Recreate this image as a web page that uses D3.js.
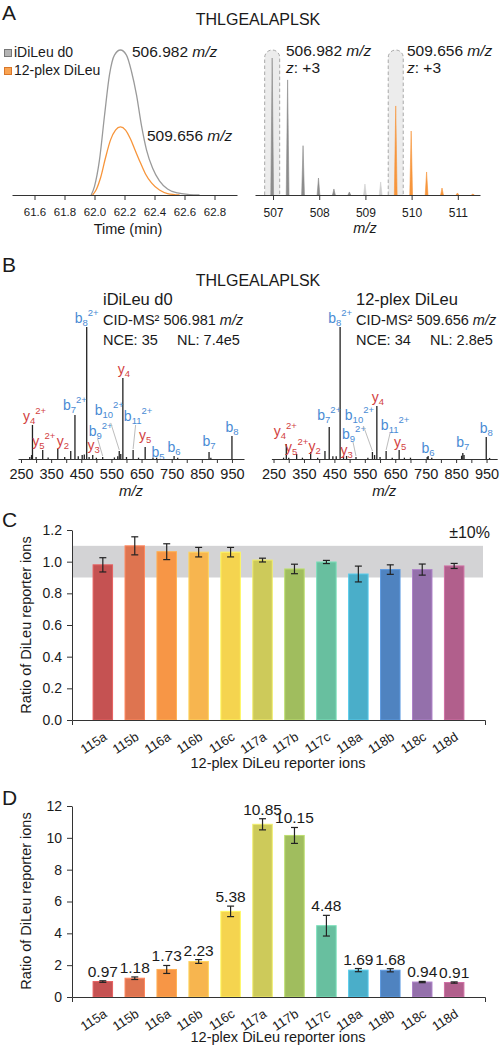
<!DOCTYPE html>
<html><head><meta charset="utf-8">
<script src="https://cdn.jsdelivr.net/npm/d3@7"></script>
<style>
body{margin:0;background:#fff}
svg{display:block}
text{font-family:"Liberation Sans",Arial,Helvetica,sans-serif;fill:#1a1a1a}
</style>
</head><body>
<svg id="c" width="500" height="1049"></svg>
<script>
// ---------------- DATA ----------------
const peptide = "THLGEALAPLSK";

// Panel A left: extracted ion chromatograms (time in min, relative intensity)
const xicTicks = [61.6, 61.8, 62.0, 62.2, 62.4, 62.6, 62.8];
const xicTimeD0 = [61.978, 62.0, 62.033, 62.067, 62.1, 62.133, 62.173, 62.213, 62.247, 62.28, 62.313, 62.347, 62.387, 62.433, 62.487, 62.553, 62.633, 62.7];
const xicIntD0  = [0, 6, 24, 55, 83, 96.5, 100, 96.5, 85, 69, 48, 31, 18.6, 9.7, 4.1, 1.4, 0.3, 0];
const xicTime12 = [61.987, 62.013, 62.04, 62.073, 62.107, 62.14, 62.173, 62.207, 62.24, 62.273, 62.307, 62.34, 62.38, 62.433, 62.487, 62.567];
const xicInt12  = [0, 4, 11.7, 25.5, 38, 44.8, 47, 44.8, 38.6, 30.3, 22, 14.5, 8.3, 3.4, 1, 0];
const legendLabels = ["iDiLeu d0", "12-plex DiLeu"];

// Panel A right: MS1 isotopic envelopes
const ms1Ticks = [507, 508, 509, 510, 511];
const ms1MzD0  = [506.982, 507.316, 507.650, 507.984, 508.318, 508.652];
const ms1IntD0 = [100, 84, 36, 12.4, 4.4, 2.2];
const ms1MzOther  = [508.99, 509.33];
const ms1IntOther = [8, 9.5];
const ms1Mz12  = [509.656, 509.990, 510.324, 510.658, 510.992, 511.326];
const ms1Int12 = [65, 46.7, 16.8, 5.1, 1.5, 0.7];
const precursorMz = [506.982, 509.656];

// Panel B: MS2 spectra
const ms2Ticks = [250, 300, 350, 400, 450, 500, 550, 600, 650, 700, 750, 800, 850, 900, 950];
const ms2MzD0  = [279, 285, 288, 300, 322, 340, 372, 395, 415, 429, 440, 453, 460, 468, 476, 488, 500, 521, 560, 571, 576, 581, 588, 600, 622, 640, 662, 688, 700, 758, 770, 874, 880, 950];
const ms2IntD0 = [1.5, 3, 25.8, 1.5, 6.8, 1.2, 7.6, 1.5, 6.1, 33.3, 2, 3, 3.5, 100, 1.5, 3, 1, 1.5, 1.2, 2, 6.1, 3.8, 61.4, 1.5, 6.8, 1, 9.1, 1.1, 1, 2.3, 1, 5.3, 1, 17.4];
const ms2Mz12  = [283, 292, 300, 326, 345, 372, 395, 419, 433, 445, 456, 468.8, 480, 490, 521, 560, 575, 582, 589.5, 600, 620, 640, 662.8, 680, 700, 755, 758, 770, 868, 872, 876, 949, 960];
const ms2Int12 = [1, 11.4, 1, 3.8, 1, 5.3, 1, 6.1, 24.2, 2, 2, 100, 2, 2.3, 1.5, 1, 5.3, 3, 40.2, 1.5, 6.1, 1, 6.8, 1, 1, 1.5, 2.3, 1, 2.5, 4.5, 3, 16.7, 0.8];
// annotated ions: [type, index, charge, m/z]
const ionsD0 = [["y","4","2+",288],["y","5","2+",322],["y","2","",372],["b","7","2+",429],["b","8","2+",468],["y","3","",488],["b","9","2+",521],["b","10","2+",576],["y","4","",588],["b","11","2+",622],["y","5","",662],["b","5","",688],["b","6","",758],["b","7","",874],["b","8","",950]];
const ions12 = [["y","4","2+",292],["y","5","2+",326],["y","2","",372],["b","7","2+",433],["b","8","2+",468.8],["y","3","",490],["b","9","2+",521],["b","10","2+",575],["y","4","",589.5],["b","11","2+",620],["y","5","",662.8],["b","6","",758],["b","7","",872],["b","8","",949]];
const specInfoD0 = ["iDiLeu d0", "506.981", "NCE: 35", "NL: 7.4e5"];
const specInfo12 = ["12-plex DiLeu", "509.656", "NCE: 34", "NL: 2.8e5"];

// Panels C, D: reporter ion ratios
const reporters = ["115a","115b","116a","116b","116c","117a","117b","117c","118a","118b","118c","118d"];
const colors = ["#c55252","#de7450","#f79646","#f7b54f","#f5d44f","#cdca5a","#a0bd5e","#68bf9f","#4aaec9","#4f83c0","#9470ab","#b15f8c"];
const ratioC = [0.98, 1.10, 1.063, 1.06, 1.06, 1.01, 0.954, 0.998, 0.922, 0.95, 0.95, 0.973];
const errC   = [0.045, 0.057, 0.05, 0.03, 0.03, 0.012, 0.03, 0.01, 0.05, 0.03, 0.035, 0.016];
const ticksC = [0, 0.2, 0.4, 0.6, 0.8, 1.0, 1.2];
const bandC  = [0.9, 1.1];
const ratioD = [0.97, 1.18, 1.73, 2.23, 5.38, 10.85, 10.15, 4.48, 1.69, 1.68, 0.94, 0.91];
const errD   = [0.05, 0.08, 0.25, 0.12, 0.33, 0.35, 0.5, 0.65, 0.1, 0.1, 0.04, 0.04];
const ticksD = [0, 2, 4, 6, 8, 10, 12];

// ---------------- LAYOUT (pixel offsets for annotations) ----------------
// [dx from peak, dy from peak top (baseline), leader start dx, leader start dy]
const labelPosD0 = [[2,-4],[1,-4],[5,-3],[0,-5],[0,-4],[1,-5],[-2,-21,-3,3],[-10,-36,1.5,8],[1,-4],[5,-29,-2.5,4],[0,-7],[5,-1],[0,-4],[0,-6],[0,-4]];
const labelPos12 = [[-1,-8],[0,-2],[4,-1],[0,-7],[0,-4],[0,-1],[-2,-18,-1,3],[-13,-32,4,6],[1,-4],[9,-21,-5,3],[1,-3],[0,-3],[0,-6],[0,-4]];

const svg = d3.select("#c");
const ink = "#222";

function styleAxis(g, fs) {
  g.selectAll("path,line").attr("stroke", "#333").attr("stroke-width", 1);
  g.selectAll("text").attr("font-size", fs).attr("fill", "#1a1a1a")
    .attr("font-family", '"Liberation Sans",Arial,Helvetica,sans-serif');
}

// panel letters and titles
[["A",20],["B",272],["C",527],["D",805]].forEach(([t,y]) =>
  svg.append("text").attr("x", 2).attr("y", y).attr("font-size", 21).text(t));
[25, 286].forEach(y => svg.append("text").attr("x", 258).attr("y", y)
  .attr("text-anchor","middle").attr("font-size", 16).text(peptide));

// ---------------- Panel A left ----------------
{
  const x = d3.scaleLinear().domain([61.45, 62.95]).range([12, 237]);
  const y = d3.scaleLinear().domain([0, 100]).range([195, 50]);
  const line = d3.line().x(d => x(d[0])).y(d => y(d[1])).curve(d3.curveMonotoneX);
  svg.append("path").datum(d3.zip(xicTimeD0, xicIntD0)).attr("d", line)
    .attr("fill","none").attr("stroke","#9a9a9a").attr("stroke-width",1.3);
  svg.append("path").datum(d3.zip(xicTime12, xicInt12)).attr("d", line)
    .attr("fill","none").attr("stroke","#f7953b").attr("stroke-width",1.3);
  const g = svg.append("g").attr("transform","translate(0,195)")
    .call(d3.axisBottom(x).tickValues(xicTicks).tickFormat(d3.format(".1f")).tickSize(5).tickSizeOuter(0).tickPadding(8));
  styleAxis(g, 11.5);
  svg.append("text").attr("x",128).attr("y",234).attr("text-anchor","middle").attr("font-size",14.5).text("Time (min)");
  // legend
  const lf = [["#b4b4b4","#777"],["#f9a352","#d9772a"]];
  legendLabels.forEach((l,i) => {
    svg.append("rect").attr("x",4.5).attr("y",49.5+i*18).attr("width",7).attr("height",7)
      .attr("fill",lf[i][0]).attr("stroke",lf[i][1]).attr("stroke-width",1);
    svg.append("text").attr("x",14).attr("y",57+i*18).attr("font-size",14).text(l);
  });
  const lab = (tx, ty, mz) => {
    const t = svg.append("text").attr("x",tx).attr("y",ty).attr("font-size",15.5);
    t.append("tspan").text(mz + " ");
    t.append("tspan").attr("font-style","italic").text("m/z");
  };
  lab(132, 57, "506.982");
  lab(147, 141, "509.656");
}

// ---------------- Panel A right ----------------
{
  const x = d3.scaleLinear().domain([506.61, 511.48]).range([255, 480]);
  const y = d3.scaleLinear().domain([0, 100]).range([195, 58]);
  precursorMz.forEach(mz => {
    const l = x(mz) - 7.5, r = x(mz) + 7.5, top = 50, b = 195;
    svg.append("path").attr("d", `M${l},${b}V${top+7.5}A7.5,7.5 0 0 1 ${r},${top+7.5}V${b}Z`).attr("fill","#ececec");
    svg.append("path").attr("d", `M${l},${b}V${top+7.5}A7.5,7.5 0 0 1 ${r},${top+7.5}V${b}`)
      .attr("fill","none").attr("stroke","#a8a8a8").attr("stroke-width",1).attr("stroke-dasharray","3.5,2.5");
  });
  const peak = (mzs, ints, col) => mzs.forEach((mz,i) => {
    svg.append("path").attr("d", `M${x(mz-0.03)},195L${x(mz)},${y(ints[i])}L${x(mz+0.03)},195Z`)
      .attr("fill", col).attr("stroke", col).attr("stroke-width", 0.6);
  });
  peak(ms1MzD0, ms1IntD0, "#8c8c8c");
  peak(ms1MzOther, ms1IntOther, "#cfcfcf");
  peak(ms1Mz12, ms1Int12, "#f7953b");
  const g = svg.append("g").attr("transform","translate(0,195)")
    .call(d3.axisBottom(x).tickValues(ms1Ticks).tickFormat(d3.format("d")).tickSize(5).tickSizeOuter(0).tickPadding(8));
  styleAxis(g, 12);
  svg.append("text").attr("x",365).attr("y",233).attr("text-anchor","middle").attr("font-size",14.5)
    .attr("font-style","italic").text("m/z");
  const lab = (tx, mz) => {
    const t = svg.append("text").attr("x",tx).attr("y",56).attr("font-size",15.5);
    t.append("tspan").text(mz + " ");
    t.append("tspan").attr("font-style","italic").text("m/z");
    const t2 = svg.append("text").attr("x",tx).attr("y",73).attr("font-size",15.5);
    t2.append("tspan").attr("font-style","italic").text("z");
    t2.append("tspan").text(": +3");
  };
  lab(286, "506.982");
  lab(407, "509.656");
}

// ---------------- Panel B ----------------
function spectrum(x, mzs, ints, ions, pos, info, infoX) {
  const y = d3.scaleLinear().domain([0, 100]).range([459, 327]);
  mzs.forEach((mz,i) => svg.append("line").attr("x1",x(mz)).attr("x2",x(mz))
    .attr("y1",459).attr("y2",y(ints[i])).attr("stroke",ink).attr("stroke-width",1.3));
  ions.forEach((ion,i) => {
    const [t, n, z, mz] = ion;
    let k = d3.minIndex(mzs, m => Math.abs(m - mz));
    const px = x(mzs[k]), py = y(ints[k]);
    const p = pos[i];
    const lx = px + p[0], ly = py + p[1];
    const col = t === "y" ? "#d23f3f" : "#4a8bd4";
    const tx = svg.append("text").attr("x", lx).attr("y", ly).attr("text-anchor","middle")
      .attr("font-size", 14).style("fill", col);
    tx.append("tspan").text(t);
    tx.append("tspan").attr("font-size", 9.5).attr("dy", 3).text(n);
    if (z) tx.append("tspan").attr("font-size", 9.5).attr("dy", -10).text(z);
    if (p.length > 2) {
      svg.append("line").attr("x1", lx + p[2]).attr("y1", ly + p[3]).attr("x2", px).attr("y2", py - 1)
        .attr("stroke", "#bdbdbd").attr("stroke-width", 1);
    }
  });
  const g = svg.append("g").attr("transform","translate(0,459)")
    .call(d3.axisBottom(x).tickValues(ms2Ticks).tickFormat(d => (d - 250) % 100 === 0 ? d : "")
      .tickSize(4).tickSizeOuter(0).tickPadding(6));
  styleAxis(g, 14.5);
  const [r0, r1] = x.range();
  svg.append("text").attr("x",(r0+r1)/2).attr("y",496).attr("text-anchor","middle").attr("font-size",15)
    .attr("font-style","italic").text("m/z");
  svg.append("text").attr("x",infoX).attr("y",305).attr("font-size",16.5).text(info[0]);
  const t = svg.append("text").attr("x",infoX).attr("y",325).attr("font-size",14.5);
  t.append("tspan").text("CID-MS² " + info[1] + " ");
  t.append("tspan").attr("font-style","italic").text("m/z");
  svg.append("text").attr("x",infoX).attr("y",345).attr("font-size",14.5).text(info[2]);
  svg.append("text").attr("x",infoX + 74).attr("y",345).attr("font-size",14.5).text(info[3]);
}
spectrum(d3.scaleLinear().domain([240, 990]).range([18, 244]), ms2MzD0, ms2IntD0, ionsD0, labelPosD0, specInfoD0, 103);
spectrum(d3.scaleLinear().domain([243, 985]).range([271.4, 497.2]), ms2Mz12, ms2Int12, ions12, labelPos12, specInfo12, 356);

// ---------------- Panels C & D ----------------
function barPanel(vals, errs, y, ticks, fmt, yAxisY, band, showVals, xTitleY, yTitleY) {
  const x = d3.scaleBand().domain(reporters).range([72, 485]).paddingInner(0.39).paddingOuter(0.66);
  if (band) {
    svg.append("rect").attr("x",72).attr("y",y(band[1])).attr("width",411).attr("height",y(band[0])-y(band[1]))
      .attr("fill","#d3d3d5");
    svg.append("text").attr("x",490).attr("y",y(band[1]) - 8).attr("text-anchor","end").attr("font-size",16).text("±10%");
  }
  reporters.forEach((r,i) => {
    const c = d3.color(colors[i]);
    svg.append("rect").attr("x",x(r)).attr("y",y(vals[i])).attr("width",x.bandwidth())
      .attr("height",y(0)-y(vals[i])).attr("fill",colors[i])
      .attr("stroke",c.brighter(0.45)).attr("stroke-width",1);
    const cx = x(r) + x.bandwidth()/2;
    const yt = y(vals[i]+errs[i]), yb = y(vals[i]-errs[i]);
    const eg = svg.append("g").attr("stroke","#222").attr("stroke-width",1.2);
    eg.append("line").attr("x1",cx).attr("x2",cx).attr("y1",yt).attr("y2",yb);
    eg.append("line").attr("x1",cx-3.5).attr("x2",cx+3.5).attr("y1",yt).attr("y2",yt);
    eg.append("line").attr("x1",cx-3.5).attr("x2",cx+3.5).attr("y1",yb).attr("y2",yb);
    if (showVals) svg.append("text").attr("x",cx).attr("y",yt-4).attr("text-anchor","middle")
      .attr("font-size",15.5).text(vals[i].toFixed(2));
    svg.append("text").attr("transform",`translate(${cx+5},${yAxisY+19}) rotate(-33)`)
      .attr("text-anchor","end").attr("font-size",13).text(r);
  });
  const gy = svg.append("g").attr("transform","translate(72,0)")
    .call(d3.axisLeft(y).tickValues(ticks).tickFormat(fmt).tickSize(5).tickSizeOuter(0).tickPadding(5));
  styleAxis(gy, 14);
  const gx = svg.append("g").attr("transform",`translate(0,${yAxisY})`)
    .call(d3.axisBottom(x).tickValues([]).tickSizeOuter(5));
  styleAxis(gx, 12);
  svg.append("text").attr("x",278).attr("y",xTitleY).attr("text-anchor","middle").attr("font-size",14.5)
    .text("12-plex DiLeu reporter ions");
  svg.append("text").attr("transform",`translate(31,${yTitleY}) rotate(-90)`).attr("text-anchor","middle")
    .attr("font-size",14.5).text("Ratio of DiLeu reporter ions");
}
barPanel(ratioC, errC, d3.scaleLinear().domain([0,1.2]).range([720,530]), ticksC, d3.format(".1f"), 720, bandC, false, 768, 625);
barPanel(ratioD, errD, d3.scaleLinear().domain([0,12]).range([997,806]), ticksD, d3.format("d"), 997, null, true, 1042, 901);
</script>
</body></html>
